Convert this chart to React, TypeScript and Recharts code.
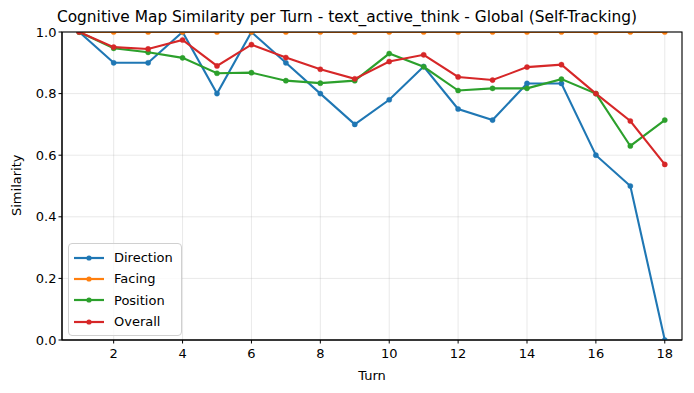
import React from 'react';
import { LineChart, Line, XAxis, YAxis, CartesianGrid } from 'recharts';

const turns = [1, 2, 3, 4, 5, 6, 7, 8, 9, 10, 11, 12, 13, 14, 15, 16, 17, 18];
const direction = [1.0, 0.9, 0.9, 1.0, 0.8, 1.0, 0.9, 0.8, 0.7, 0.78, 0.888, 0.75, 0.714, 0.833, 0.833, 0.6, 0.5, 0.0];
const facing = [1, 1, 1, 1, 1, 1, 1, 1, 1, 1, 1, 1, 1, 1, 1, 1, 1, 1];
const position = [1.0, 0.947, 0.934, 0.916, 0.866, 0.868, 0.842, 0.834, 0.842, 0.93, 0.887, 0.81, 0.817, 0.817, 0.847, 0.8, 0.63, 0.714];
const overall = [1.0, 0.951, 0.945, 0.974, 0.89, 0.959, 0.917, 0.879, 0.848, 0.904, 0.926, 0.854, 0.844, 0.886, 0.894, 0.8, 0.711, 0.57];
const xTicks = [2, 4, 6, 8, 10, 12, 14, 16, 18];
const yTicks = [0, 0.2, 0.4, 0.6, 0.8, 1.0];

const series = [
  { key: 'Direction', values: direction, color: '#1f77b4' },
  { key: 'Facing', values: facing, color: '#ff7f0e' },
  { key: 'Position', values: position, color: '#2ca02c' },
  { key: 'Overall', values: overall, color: '#d62728' },
];

const data = turns.map((t, i) => {
  const row: Record<string, number> = { turn: t };
  series.forEach((s) => {
    row[s.key] = s.values[i];
  });
  return row;
});

const FONT = '"DejaVu Sans", sans-serif';

const PLOT = { left: 62, top: 32, width: 620, height: 308 };

const LegendBox = () => (
  <div
    style={{
      position: 'absolute',
      left: 68,
      top: 243,
      border: '1px solid #d0d0d0',
      borderRadius: 4,
      background: 'rgba(255,255,255,0.8)',
      padding: '3px 8px 3px 5px',
      fontFamily: FONT,
      fontSize: 13,
      color: '#000',
      lineHeight: 'normal',
    }}
  >
    {series.map((s) => (
      <div key={s.key} style={{ display: 'flex', alignItems: 'center', height: 21.3 }}>
        <svg width={30} height={10} style={{ marginRight: 10 }}>
          <line x1={0} y1={5} x2={30} y2={5} stroke={s.color} strokeWidth={2.2} />
          <circle cx={15} cy={5} r={2.6} fill={s.color} />
        </svg>
        <span>{s.key}</span>
      </div>
    ))}
  </div>
);

export default function App() {
  return (
    <div style={{ position: 'absolute', left: 0, top: 0, width: 694, height: 393, background: '#fff' }}>
      <LineChart
        width={694}
        height={393}
        data={data}
        margin={{ top: PLOT.top, right: 694 - PLOT.left - PLOT.width, bottom: 8, left: 0 }}
        style={{ fontFamily: FONT }}
      >
        <CartesianGrid stroke="#b0b0b0" strokeOpacity={0.35} strokeWidth={0.8} />
        <XAxis
          dataKey="turn"
          type="number"
          domain={[0.5, 18.5]}
          ticks={xTicks}
          allowDataOverflow
          height={45}
          stroke="#000"
          tickSize={3.5}
          tick={{ fill: '#000', fontSize: 13, dy: 3 }}
          label={{ value: 'Turn', position: 'insideBottom', offset: 5, fill: '#000', fontSize: 13 }}
        />
        <YAxis
          type="number"
          domain={[0, 1]}
          ticks={yTicks}
          allowDataOverflow
          width={PLOT.left}
          stroke="#000"
          tickSize={3.5}
          tickFormatter={(v: number) => v.toFixed(1)}
          tick={{ fill: '#000', fontSize: 13 }}
          label={{ value: 'Similarity', angle: -90, position: 'insideLeft', offset: 16, dy: 30, fill: '#000', fontSize: 13 }}
        />
        {series.map((s) => (
          <Line
            key={s.key}
            dataKey={s.key}
            stroke={s.color}
            strokeWidth={2.1}
            dot={{ r: 2.6, fill: s.color, stroke: s.color, strokeWidth: 0.4 }}
            activeDot={false}
            isAnimationActive={false}
          />
        ))}
      </LineChart>
      <svg
        width={694}
        height={393}
        style={{ position: 'absolute', left: 0, top: 0, pointerEvents: 'none' }}
      >
        <rect x={PLOT.left} y={PLOT.top} width={PLOT.width} height={PLOT.height} fill="none" stroke="#000" strokeWidth={1.1} />
      </svg>
      <div
        style={{
          position: 'absolute',
          left: 0,
          width: 694,
          top: 8,
          textAlign: 'center',
          fontFamily: FONT,
          fontSize: 15.4,
          color: '#000',
          whiteSpace: 'nowrap',
        }}
      >
        Cognitive Map Similarity per Turn - text_active_think - Global (Self-Tracking)
      </div>
      <LegendBox />
    </div>
  );
}
